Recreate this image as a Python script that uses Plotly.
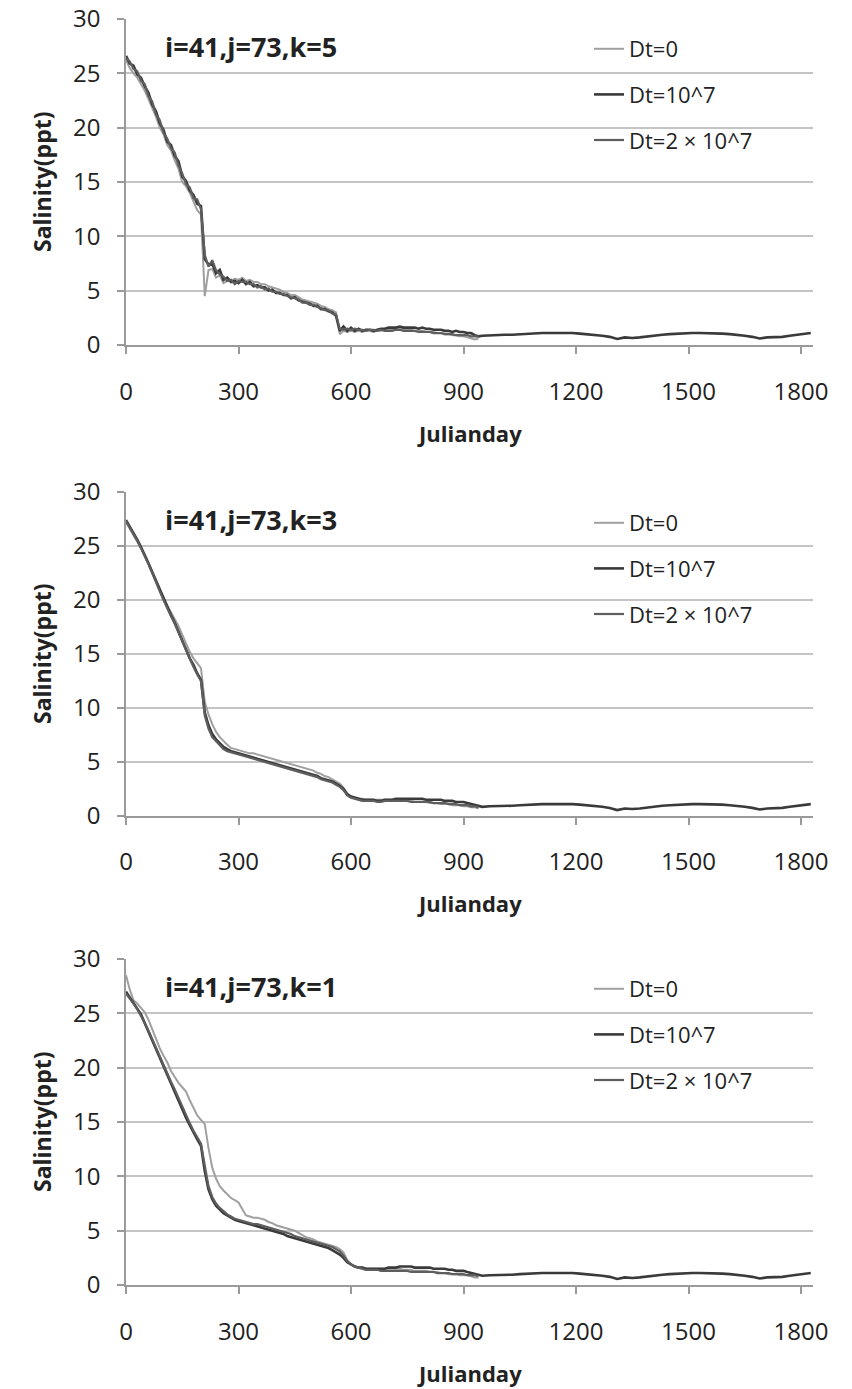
import plotly.graph_objects as go

# ---------------------------------------------------------------------------
# Salinity time series at cell i=41, j=73 for three layers (k=5, 3, 1)
# and three horizontal diffusion settings.
# ---------------------------------------------------------------------------

# Julian day sampling (every 10 days for the first 940 days)
days = list(range(0, 941, 10))
# Long run continuation (only the Dt=10^7 run is carried on to day 1826)
tail_days = list(range(950, 1811, 20)) + [1826]

series_names = ["Dt=0", "Dt=10^7", "Dt=2 \u00d7 10^7"]
panel_titles = ["i=41,j=73,k=5", "i=41,j=73,k=3", "i=41,j=73,k=1"]

# ---- layer k=5 -------------------------------------------------------------
k5_dt0 = [
    26.2, 25.5, 25.0, 24.6, 24.0, 23.4, 22.6, 21.8, 21.0, 20.0,
    19.4, 18.4, 17.9, 17.0, 16.2, 15.0, 14.6, 14.0, 13.2, 12.4,
    12.0, 4.5, 6.9, 7.0, 6.2, 6.4, 5.7, 5.9, 5.9, 6.1,
    6.0, 6.2, 5.9, 6.0, 5.8, 5.8, 5.6, 5.6, 5.4, 5.3,
    5.2, 5.1, 4.9, 4.8, 4.6, 4.6, 4.4, 4.2, 4.1, 4.0,
    3.9, 3.8, 3.6, 3.5, 3.3, 3.2, 3.0, 1.0, 1.3, 1.2,
    1.3, 1.2, 1.3, 1.2, 1.3, 1.3, 1.2, 1.3, 1.3, 1.4,
    1.4, 1.4, 1.5, 1.5, 1.4, 1.4, 1.4, 1.3, 1.3, 1.3,
    1.2, 1.2, 1.2, 1.1, 1.1, 1.0, 1.0, 0.9, 0.9, 0.8,
    0.8, 0.7, 0.6, 0.5, 0.6,
]
k5_dt1 = [
    26.6, 25.9, 25.7, 24.9, 24.6, 23.8, 23.2, 22.1, 21.5, 20.4,
    19.8, 18.7, 18.4, 17.4, 16.9, 15.5, 15.1, 14.2, 13.8, 13.0,
    12.8, 7.9, 7.4, 7.5, 6.6, 6.9, 6.0, 6.2, 5.8, 5.9,
    5.7, 6.0, 5.6, 5.8, 5.4, 5.5, 5.3, 5.3, 5.0, 5.1,
    4.8, 4.8, 4.6, 4.6, 4.3, 4.4, 4.1, 4.0, 3.9, 3.8,
    3.6, 3.6, 3.3, 3.3, 3.1, 3.0, 2.7, 1.3, 1.7, 1.3,
    1.6, 1.3, 1.5, 1.3, 1.4, 1.4, 1.3, 1.4, 1.5, 1.5,
    1.6, 1.6, 1.6, 1.7, 1.6, 1.6, 1.6, 1.6, 1.5, 1.6,
    1.5, 1.5, 1.4, 1.4, 1.4, 1.3, 1.3, 1.2, 1.3, 1.2,
    1.2, 1.1, 1.1, 0.9, 0.8,
]
k5_dt2 = [
    26.4, 26.1, 25.4, 25.2, 24.3, 24.0, 22.9, 22.4, 21.2, 20.7,
    19.5, 19.0, 18.1, 17.7, 16.5, 15.8, 14.8, 14.5, 13.5, 13.4,
    12.5, 8.3, 7.2, 7.8, 6.9, 6.5, 6.3, 5.9, 6.0, 5.6,
    5.9, 5.8, 5.8, 5.6, 5.6, 5.3, 5.4, 5.1, 5.2, 4.9,
    4.9, 4.7, 4.7, 4.5, 4.4, 4.3, 4.2, 3.9, 3.9, 3.7,
    3.7, 3.5, 3.4, 3.2, 3.2, 2.9, 2.8, 1.5, 1.4, 1.5,
    1.4, 1.5, 1.4, 1.4, 1.3, 1.4, 1.4, 1.3, 1.4, 1.3,
    1.3, 1.3, 1.4, 1.4, 1.3, 1.3, 1.3, 1.3, 1.2, 1.2,
    1.2, 1.2, 1.1, 1.1, 1.1, 1.0, 1.0, 1.0, 0.9, 0.9,
    0.9, 0.9, 0.8, 0.8, 0.8,
]

# ---- layer k=3 -------------------------------------------------------------
k3_dt0 = [
    27.2, 26.6, 26.1, 25.5, 24.8, 24.1, 23.3, 22.5, 21.7, 20.9,
    20.2, 19.5, 18.9, 18.3, 17.6, 16.8, 16.0, 15.2, 14.6, 14.1,
    13.7, 10.6, 9.4, 8.5, 7.8, 7.3, 6.9, 6.6, 6.3, 6.2,
    6.1, 6.0, 5.9, 5.8, 5.8, 5.7, 5.6, 5.5, 5.4, 5.3,
    5.2, 5.1, 5.0, 4.9, 4.8, 4.7, 4.6, 4.5, 4.4, 4.3,
    4.2, 4.0, 3.9, 3.7, 3.6, 3.4, 3.2, 3.0, 2.6, 2.1,
    1.8, 1.7, 1.6, 1.6, 1.5, 1.5, 1.5, 1.5, 1.5, 1.5,
    1.5, 1.5, 1.5, 1.5, 1.4, 1.4, 1.4, 1.3, 1.3, 1.3,
    1.3, 1.2, 1.2, 1.2, 1.1, 1.1, 1.1, 1.0, 1.0, 1.0,
    0.9, 0.9, 0.8, 0.8, 0.7,
]
k3_dt1 = [
    27.4, 26.8, 26.3, 25.6, 24.9, 24.2, 23.4, 22.6, 21.8, 20.9,
    20.1, 19.3, 18.6, 17.9, 17.1, 16.2, 15.4, 14.6, 14.0, 13.2,
    12.6, 9.6, 8.4, 7.6, 7.1, 6.7, 6.4, 6.2, 6.0, 5.9,
    5.8, 5.7, 5.6, 5.5, 5.4, 5.3, 5.2, 5.1, 5.0, 4.9,
    4.8, 4.7, 4.6, 4.5, 4.4, 4.3, 4.2, 4.1, 4.0, 3.9,
    3.8, 3.7, 3.5, 3.4, 3.3, 3.2, 3.0, 2.8, 2.5, 2.0,
    1.8, 1.7, 1.6, 1.5, 1.5, 1.5, 1.5, 1.4, 1.4, 1.5,
    1.5, 1.5, 1.6, 1.6, 1.6, 1.6, 1.6, 1.6, 1.6, 1.6,
    1.5, 1.5, 1.5, 1.5, 1.5, 1.4, 1.4, 1.4, 1.3, 1.3,
    1.3, 1.2, 1.1, 1.0, 0.9,
]
k3_dt2 = [
    27.3, 26.7, 26.2, 25.5, 24.8, 24.1, 23.3, 22.5, 21.6, 20.8,
    20.0, 19.2, 18.5, 17.8, 17.0, 16.1, 15.3, 14.5, 13.8, 13.1,
    12.5, 9.3, 8.1, 7.3, 6.9, 6.5, 6.2, 6.0, 5.9, 5.8,
    5.7, 5.6, 5.5, 5.4, 5.3, 5.2, 5.1, 5.0, 4.9, 4.8,
    4.7, 4.6, 4.5, 4.4, 4.3, 4.2, 4.1, 4.0, 3.9, 3.8,
    3.7, 3.6, 3.4, 3.3, 3.2, 3.1, 2.9, 2.7, 2.4, 1.9,
    1.7, 1.6, 1.5, 1.4, 1.4, 1.4, 1.4, 1.3, 1.3, 1.4,
    1.4, 1.4, 1.4, 1.4, 1.4, 1.4, 1.3, 1.3, 1.3, 1.3,
    1.3, 1.3, 1.2, 1.2, 1.2, 1.2, 1.1, 1.1, 1.1, 1.0,
    1.0, 1.0, 0.9, 0.9, 0.8,
]

# ---- layer k=1 -------------------------------------------------------------
k1_dt0 = [
    28.5, 27.2, 26.2, 25.9, 25.5, 25.1, 24.4, 23.5, 22.6, 21.8,
    21.1, 20.5, 19.7, 19.1, 18.6, 18.2, 17.8, 17.0, 16.3, 15.6,
    15.2, 14.8, 12.6, 10.8, 9.8, 9.1, 8.7, 8.3, 8.0, 7.8,
    7.6, 7.0, 6.4, 6.3, 6.2, 6.2, 6.1, 6.0, 5.8, 5.7,
    5.5, 5.4, 5.3, 5.2, 5.1, 5.0, 4.8, 4.6, 4.4, 4.3,
    4.2, 4.0, 3.9, 3.8, 3.7, 3.6, 3.5, 3.3, 3.0, 2.3,
    1.9, 1.7, 1.6, 1.6, 1.5, 1.5, 1.5, 1.5, 1.5, 1.5,
    1.5, 1.5, 1.5, 1.5, 1.4, 1.4, 1.4, 1.3, 1.3, 1.3,
    1.3, 1.2, 1.2, 1.2, 1.1, 1.1, 1.0, 1.0, 1.0, 0.9,
    0.9, 0.9, 0.8, 0.7, 0.7,
]
k1_dt1 = [
    27.0, 26.5, 26.0, 25.5, 24.9, 24.1, 23.3, 22.5, 21.7, 20.9,
    20.1, 19.3, 18.5, 17.8, 17.0, 16.2, 15.4, 14.7, 14.0, 13.4,
    12.8, 10.5, 8.8, 7.9, 7.3, 6.9, 6.6, 6.4, 6.2, 6.0,
    5.9, 5.8, 5.7, 5.6, 5.5, 5.4, 5.3, 5.2, 5.1, 5.0,
    4.9, 4.8, 4.7, 4.5, 4.4, 4.3, 4.2, 4.1, 4.0, 3.9,
    3.8, 3.7, 3.6, 3.5, 3.4, 3.2, 3.0, 2.8, 2.5, 2.1,
    1.9, 1.7, 1.6, 1.6, 1.5, 1.5, 1.5, 1.5, 1.5, 1.5,
    1.6, 1.6, 1.6, 1.7, 1.7, 1.7, 1.7, 1.6, 1.6, 1.6,
    1.6, 1.6, 1.5, 1.5, 1.5, 1.5, 1.4, 1.4, 1.3, 1.3,
    1.3, 1.2, 1.1, 1.0, 0.9,
]
k1_dt2 = [
    26.8, 26.4, 25.9, 25.4, 24.8, 24.1, 23.4, 22.6, 21.8, 21.0,
    20.3, 19.5, 18.7, 18.0, 17.2, 16.4, 15.7, 14.9, 14.2, 13.6,
    13.0, 11.0, 9.1, 8.1, 7.5, 7.1, 6.8, 6.5, 6.3, 6.1,
    6.0, 5.9, 5.8, 5.7, 5.6, 5.6, 5.5, 5.4, 5.3, 5.2,
    5.1, 5.0, 4.9, 4.8, 4.7, 4.5, 4.4, 4.3, 4.2, 4.1,
    4.0, 3.9, 3.8, 3.7, 3.6, 3.5, 3.3, 3.1, 2.7, 2.2,
    1.9, 1.7, 1.6, 1.5, 1.4, 1.4, 1.4, 1.4, 1.3, 1.3,
    1.3, 1.3, 1.3, 1.3, 1.3, 1.3, 1.2, 1.2, 1.2, 1.2,
    1.2, 1.2, 1.2, 1.1, 1.1, 1.1, 1.1, 1.0, 1.0, 1.0,
    1.0, 0.9, 0.9, 0.9, 0.8,
]

# Continuation of the Dt=10^7 run, days 950-1826
tail_sal = [
    0.85, 0.90, 0.90, 0.95, 0.95, 1.00, 1.05, 1.05, 1.10, 1.10,
    1.10, 1.15, 1.10, 1.05, 1.00, 0.95, 0.85, 0.75, 0.55, 0.70,
    0.65, 0.70, 0.80, 0.90, 0.95, 1.00, 1.05, 1.05, 1.10, 1.10,
    1.10, 1.10, 1.05, 1.00, 0.95, 0.85, 0.75, 0.60, 0.70, 0.70,
    0.75, 0.85, 0.95, 1.05, 1.10,
]

panels = [
    (k5_dt0, k5_dt1, k5_dt2),
    (k3_dt0, k3_dt1, k3_dt2),
    (k1_dt0, k1_dt1, k1_dt2),
]

# ---------------------------------------------------------------------------
W, H = 852, 1389
colors = ["#a0a0a0", "#3a3a3a", "#5e5e5e"]
widths = [2.0, 2.6, 2.2]

# plot area of each panel in pixels: (top, bottom)
panel_px = [(19, 345), (492, 816), (959, 1285)]
x_left_px, x_right_px = 126, 813
tick_standoff = [17, 16, 17]
xtitle_px = [433, 903, 1373]
legend_top_px = [28, 502, 968]

FONT = "Open Sans"
TXT = "#222222"
GRID = "#c4c4c4"
AXIS = "#9a9a9a"


def fx(px):
    return px / W


def fy(py):
    return 1 - py / H


fig = go.Figure()
annotations = []
layout_axes = {}

for p in range(3):
    top, bot = panel_px[p]
    sfx = "" if p == 0 else str(p + 1)
    xa, ya = "x" + sfx, "y" + sfx
    leg = "legend" + sfx
    for s in range(3):
        yv = list(panels[p][s])
        xv = list(days[: len(yv)])
        if s == 1:
            xv = xv + tail_days
            yv = yv + tail_sal
        fig.add_trace(go.Scatter(
            x=xv, y=yv, mode="lines", name=series_names[s],
            line=dict(color=colors[s], width=widths[s]),
            xaxis=xa, yaxis=ya, legend=leg, legendgroup=f"{p}-{s}",
        ))

    layout_axes["xaxis" + sfx] = dict(
        domain=[fx(x_left_px), fx(x_right_px)], anchor=ya, automargin=False,
        range=[0, 1832], tickvals=[0, 300, 600, 900, 1200, 1500, 1800],
        showgrid=False, zeroline=False, showline=True, linecolor=AXIS,
        linewidth=1.5, ticks="outside", ticklen=7, tickcolor=AXIS,
        tickwidth=1.5, ticklabelstandoff=tick_standoff[p],
        tickfont=dict(family=FONT, size=24, color=TXT),
    )
    layout_axes["yaxis" + sfx] = dict(
        domain=[fy(bot), fy(top)], anchor=xa, automargin=False,
        range=[0, 30], dtick=5, showgrid=True, gridcolor=GRID, gridwidth=1.5,
        zeroline=False, showline=True, linecolor=AXIS, linewidth=1.5,
        ticks="outside", ticklen=7, tickcolor=AXIS, tickwidth=1.5,
        ticklabelstandoff=12,
        tickfont=dict(family=FONT, size=24, color=TXT),
    )
    layout_axes[leg] = dict(
        x=fx(589), y=fy(legend_top_px[p]), xanchor="left", yanchor="top",
        bgcolor="rgba(0,0,0,0)", borderwidth=0, tracegroupgap=14,
        itemwidth=30, traceorder="grouped",
        font=dict(family=FONT, size=22, color=TXT),
    )

    # panel label
    annotations.append(dict(
        text=f"<b>{panel_titles[p]}</b>", x=fx(163), y=fy(top + 27),
        xref="paper", yref="paper", xanchor="left", yanchor="middle",
        showarrow=False, font=dict(family=FONT, size=27, color=TXT),
    ))
    # y axis title
    annotations.append(dict(
        text="<b>Salinity(ppt)</b>", x=fx(42), y=fy((top + bot) / 2),
        xref="paper", yref="paper", xanchor="center", yanchor="middle",
        textangle=-90, showarrow=False,
        font=dict(family=FONT, size=23, color=TXT),
    ))
    # x axis title
    annotations.append(dict(
        text="<b>Julianday</b>", x=fx((x_left_px + x_right_px) / 2),
        y=fy(xtitle_px[p]), xref="paper", yref="paper",
        xanchor="center", yanchor="middle", showarrow=False,
        font=dict(family=FONT, size=22, color=TXT),
    ))

fig.update_layout(
    width=W, height=H,
    margin=dict(l=0, r=0, t=0, b=0, autoexpand=False),
    paper_bgcolor="white", plot_bgcolor="white",
    showlegend=True,
    annotations=annotations,
    **layout_axes,
)

fig.write_html("out.html")
